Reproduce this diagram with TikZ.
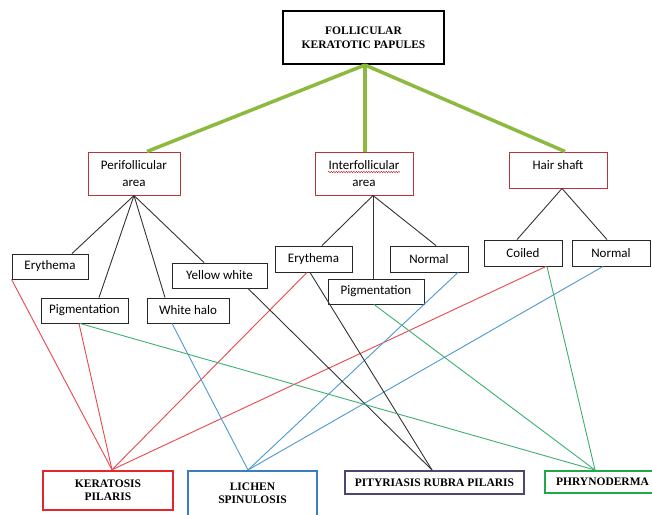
\documentclass[tikz,border=0pt]{standalone}
\usepackage{fontspec}
\setmainfont{Carlito}
\newfontfamily\headfont{Liberation Serif}
\usetikzlibrary{decorations.pathmorphing}
\definecolor{leafgreen}{HTML}{8CBA3E}
\definecolor{areared}{HTML}{B8333A}
\definecolor{kpred}{HTML}{E4252B}
\definecolor{linered}{HTML}{E8474C}
\definecolor{lsblue}{HTML}{3A7DC0}
\definecolor{lineblue}{HTML}{4C98CF}
\definecolor{prppurple}{HTML}{4E4670}
\definecolor{phrgreen}{HTML}{20A84D}
\definecolor{linegreen}{HTML}{3DB06E}
\tikzset{
  item/.style = {draw=black!85, line width=0.9pt, inner sep=0pt, minimum height=25pt,
                 font=\fontsize{13}{17}\selectfont},
  area/.style = {draw=areared, line width=1pt, inner sep=0pt, align=center,
                 font=\fontsize{13}{17}\selectfont},
  disease/.style = {line width=2pt, inner sep=0pt, align=center,
                    font=\headfont\bfseries\fontsize{11.5}{13}\selectfont},
  trunk/.style = {leafgreen, line width=3.5pt},
  branch/.style = {black!80, line width=0.9pt},
  redline/.style = {linered, line width=0.9pt},
  blueline/.style = {lineblue, line width=0.9pt},
  greenline/.style = {linegreen, line width=0.9pt}
}
\begin{document}
\begin{tikzpicture}[x=1pt,y=-1pt]
\useasboundingbox (0,0) rectangle (652,514);
\node[disease, draw=black, minimum width=161pt, minimum height=53pt,
      font=\headfont\bfseries\fontsize{11.5}{14}\selectfont] (top) at (363.5,37.5)
      {FOLLICULAR\\KERATOTIC PAPULES};
\node[area, minimum width=92pt, minimum height=43pt] (peri) at (134,173.5) {Perifollicular\\area};
\node[area, minimum width=98pt, minimum height=43pt] (inter) at (364,173.5) {Interfollicular\\area};
\node[area, minimum width=98pt, minimum height=36pt, text depth=10pt] (hair) at (558,170) {Hair shaft};
\draw[areared, line width=0.5pt, decorate, decoration={snake, amplitude=0.7pt, segment length=2.5pt}]
  ([xshift=-36pt,yshift=1.5pt]inter.center) -- ([xshift=36pt,yshift=1.5pt]inter.center);

\node[item, minimum width=76pt] (ery1) at (50,266.5) {Erythema};
\node[item, minimum width=87pt] (pig1) at (84.5,310.5) {Pigmentation};
\node[item, minimum width=82pt] (halo) at (188,310.5) {White halo};
\node[item, minimum width=95pt] (yell) at (219.5,275.5) {Yellow white};
\node[item, minimum width=77pt, minimum height=26pt] (ery2) at (313.5,259) {Erythema};
\node[item, minimum width=96pt] (pig2) at (376,291.5) {Pigmentation};
\node[item, minimum width=78pt, minimum height=26pt] (norm1) at (429,259) {Normal};
\node[item, minimum width=78pt, minimum height=26pt] (coil) at (523,253) {Coiled};
\node[item, minimum width=78pt, minimum height=26pt] (norm2) at (611,253) {Normal};

\node[disease, draw=kpred, line width=2.5pt, minimum width=130pt, minimum height=39pt] (kp) at (108,490.5) {KERATOSIS\\PILARIS};
\node[disease, draw=lsblue, minimum width=129pt, minimum height=50pt, text depth=5pt] (ls) at (252.5,496) {LICHEN\\SPINULOSIS};
\node[disease, draw=prppurple, minimum width=179pt, minimum height=23pt] (prp) at (434.5,482.5) {PITYRIASIS RUBRA PILARIS};
\node[disease, draw=phrgreen, minimum width=115pt, minimum height=22pt] (phr) at (602.5,482) {PHRYNODERMA};

\draw[trunk] ([xshift=1.5pt]top.south) -- ([xshift=13pt]peri.north);
\draw[trunk] ([xshift=1.5pt]top.south) -- ([xshift=1pt]inter.north);
\draw[trunk] ([xshift=1.5pt]top.south) -- ([xshift=7pt]hair.north);

\draw[branch] (peri.south) -- ([xshift=22pt]ery1.north);
\draw[branch] (peri.south) -- ([xshift=14.5pt]pig1.north);
\draw[branch] (peri.south) -- ([xshift=-23pt]halo.north);
\draw[branch] (peri.south) -- ([xshift=-15.5pt]yell.north);
\draw[branch] ([xshift=9pt]inter.south) -- ([xshift=8.5pt]ery2.north);
\draw[branch] ([xshift=9pt]inter.south) -- ([xshift=-3pt]pig2.north);
\draw[branch] ([xshift=9pt]inter.south) -- ([xshift=7pt]norm1.north);
\draw[branch] ([xshift=4pt]hair.south) -- ([xshift=-6pt]coil.north);
\draw[branch] ([xshift=4pt]hair.south) -- ([xshift=-4pt]norm2.north);

\draw[redline] (ery1.south west) -- ([xshift=4pt]kp.north);
\draw[redline] ([xshift=-5.5pt]pig1.south) -- ([xshift=4pt]kp.north);
\draw[redline] ([xshift=-6.5pt]ery2.south) -- ([xshift=4pt]kp.north);
\draw[redline] ([xshift=23pt]coil.south) -- ([xshift=4pt]kp.north);

\draw[blueline] ([xshift=-16pt]halo.south) -- ([xshift=-4.5pt]ls.north);
\draw[blueline] ([xshift=29pt]norm1.south) -- ([xshift=-4.5pt]ls.north);
\draw[blueline] ([xshift=-8pt]norm2.south) -- ([xshift=-4.5pt]ls.north);

\draw[branch] ([xshift=28.5pt]yell.south) -- ([xshift=-2.5pt]prp.north);
\draw[branch] ([xshift=-3.5pt]ery2.south) -- ([xshift=-2.5pt]prp.north);

\draw[greenline] ([xshift=-4.5pt]pig1.south) -- ([xshift=-7.5pt]phr.north);
\draw[greenline] ([xshift=-2pt]pig2.south) -- ([xshift=-7.5pt]phr.north);
\draw[greenline] ([xshift=24pt]coil.south) -- ([xshift=-7.5pt]phr.north);
\end{tikzpicture}
\end{document}
